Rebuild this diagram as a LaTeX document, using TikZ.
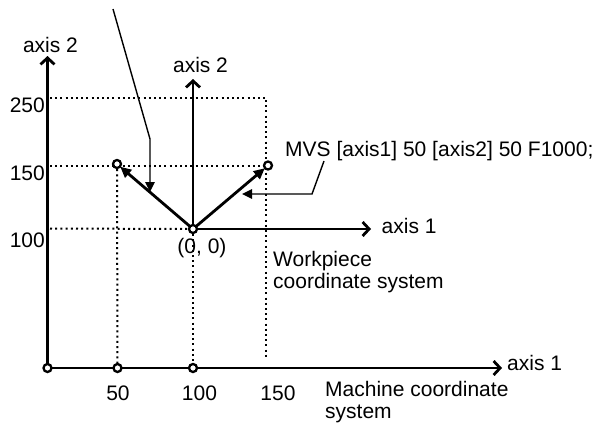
\documentclass[tikz,border=0pt]{standalone}
\usepackage{fontspec}
\setmainfont{Liberation Sans}
\usetikzlibrary{arrows.meta}
\begin{document}
\begin{tikzpicture}[x=1pt,y=-1pt,
  axisline/.style={line width=2.8pt,-{Straight Barb[length=6.5pt,width=14pt,line width=2.8pt]}},
  vecline/.style={line width=2.8pt,-{Triangle[length=11pt,width=10pt]}},
  leader/.style={line width=1.4pt,-{Triangle[length=10pt,width=9.5pt]}},
  dots/.style={line width=2pt,dash pattern=on 2pt off 3.2pt},
  ptshape/.style={circle,inner sep=0pt,minimum size=8pt},
  pt/.style={ptshape,draw,line width=2.3pt,fill=white},
  lbl/.style={inner sep=0pt,font=\fontsize{21}{23}\selectfont}
]
\useasboundingbox (0,0) rectangle (601,423);
% points
\node[ptshape] (mo) at (47.5,368) {};
\node[ptshape] (m50) at (117.5,368) {};
\node[ptshape] (m100) at (193,368) {};
\node[ptshape] (wo) at (193,229) {};
\node[ptshape] (p1) at (117,164) {};
\node[ptshape] (p2) at (268,165.5) {};
% dotted guides
\coordinate (d250l) at (50,97.5);
\coordinate (d250r) at (266,97.5);
\coordinate (d266b) at (266,357);
\coordinate (d150l) at (50,165.5);
\coordinate (d150r) at (266,165.5);
\coordinate (d100l) at (50,228.5);
\draw[dots] (d250l) -- (d250r) -- (d266b);
\draw[dots] (d150l) -- (d150r);
\draw[dots] (d100l) -- (wo.west);
\draw[dots] (p1.center) -- (m50.center);
\draw[dots] (wo.center) -- (m100.center);
% axes
\coordinate (my) at (47.5,56);
\coordinate (mx) at (502,368);
\coordinate (wy) at (193,79);
\coordinate (wx) at (371,229);
\draw[axisline] (mo) -- (my);
\draw[axisline] (mo) -- (mx);
\draw[axisline] (wo) -- (wy);
\draw[axisline] (wo) -- (wx);
% vectors
\draw[vecline] (wo) -- (p1);
\draw[vecline] (wo) -- (p2);
% circles on top
\foreach \p in {mo,m50,m100,wo,p1,p2} \node[pt] at (\p) {};
% leaders
\coordinate (l1a) at (113,9);
\coordinate (l1b) at (150,139);
\coordinate (l1c) at (150,192);
\draw[leader] (l1a) -- (l1b) -- (l1c);
\node[lbl,anchor=base west] (mvs) at (285,156.5) {MVS [axis1] 50 [axis2] 50 F1000;};
\coordinate (l2a) at (324,161);
\coordinate (l2b) at (312,194);
\coordinate (l2c) at (242,194);
\draw[leader] (l2a) -- (l2b) -- (l2c);
% labels
\node[lbl,anchor=base] (ma2) at (50.5,52) {axis 2};
\node[lbl,anchor=base] (wa2) at (200.5,72) {axis 2};
\node[lbl,anchor=base west] (wa1) at (381.5,233) {axis 1};
\node[lbl,anchor=base west] (ma1) at (507,370) {axis 1};
\node[lbl,anchor=base east] (y250) at (45,112) {250};
\node[lbl,anchor=base east] (y150) at (45,180) {150};
\node[lbl,anchor=base east] (y100) at (45,247) {100};
\node[lbl,anchor=base] (x50) at (118,400) {50};
\node[lbl,anchor=base] (x100) at (199.5,400) {100};
\node[lbl,anchor=base] (x150) at (278,400) {150};
\node[lbl,anchor=base] (zero) at (202,253) {(0, 0)};
\node[lbl,anchor=base west] (wcs1) at (273,266.5) {Workpiece};
\node[lbl,anchor=base west] (wcs2) at (273,288.5) {coordinate system};
\node[lbl,anchor=base west] (mcs1) at (325,396.5) {Machine coordinate};
\node[lbl,anchor=base west] (mcs2) at (325,418.5) {system};
\end{tikzpicture}
\end{document}
